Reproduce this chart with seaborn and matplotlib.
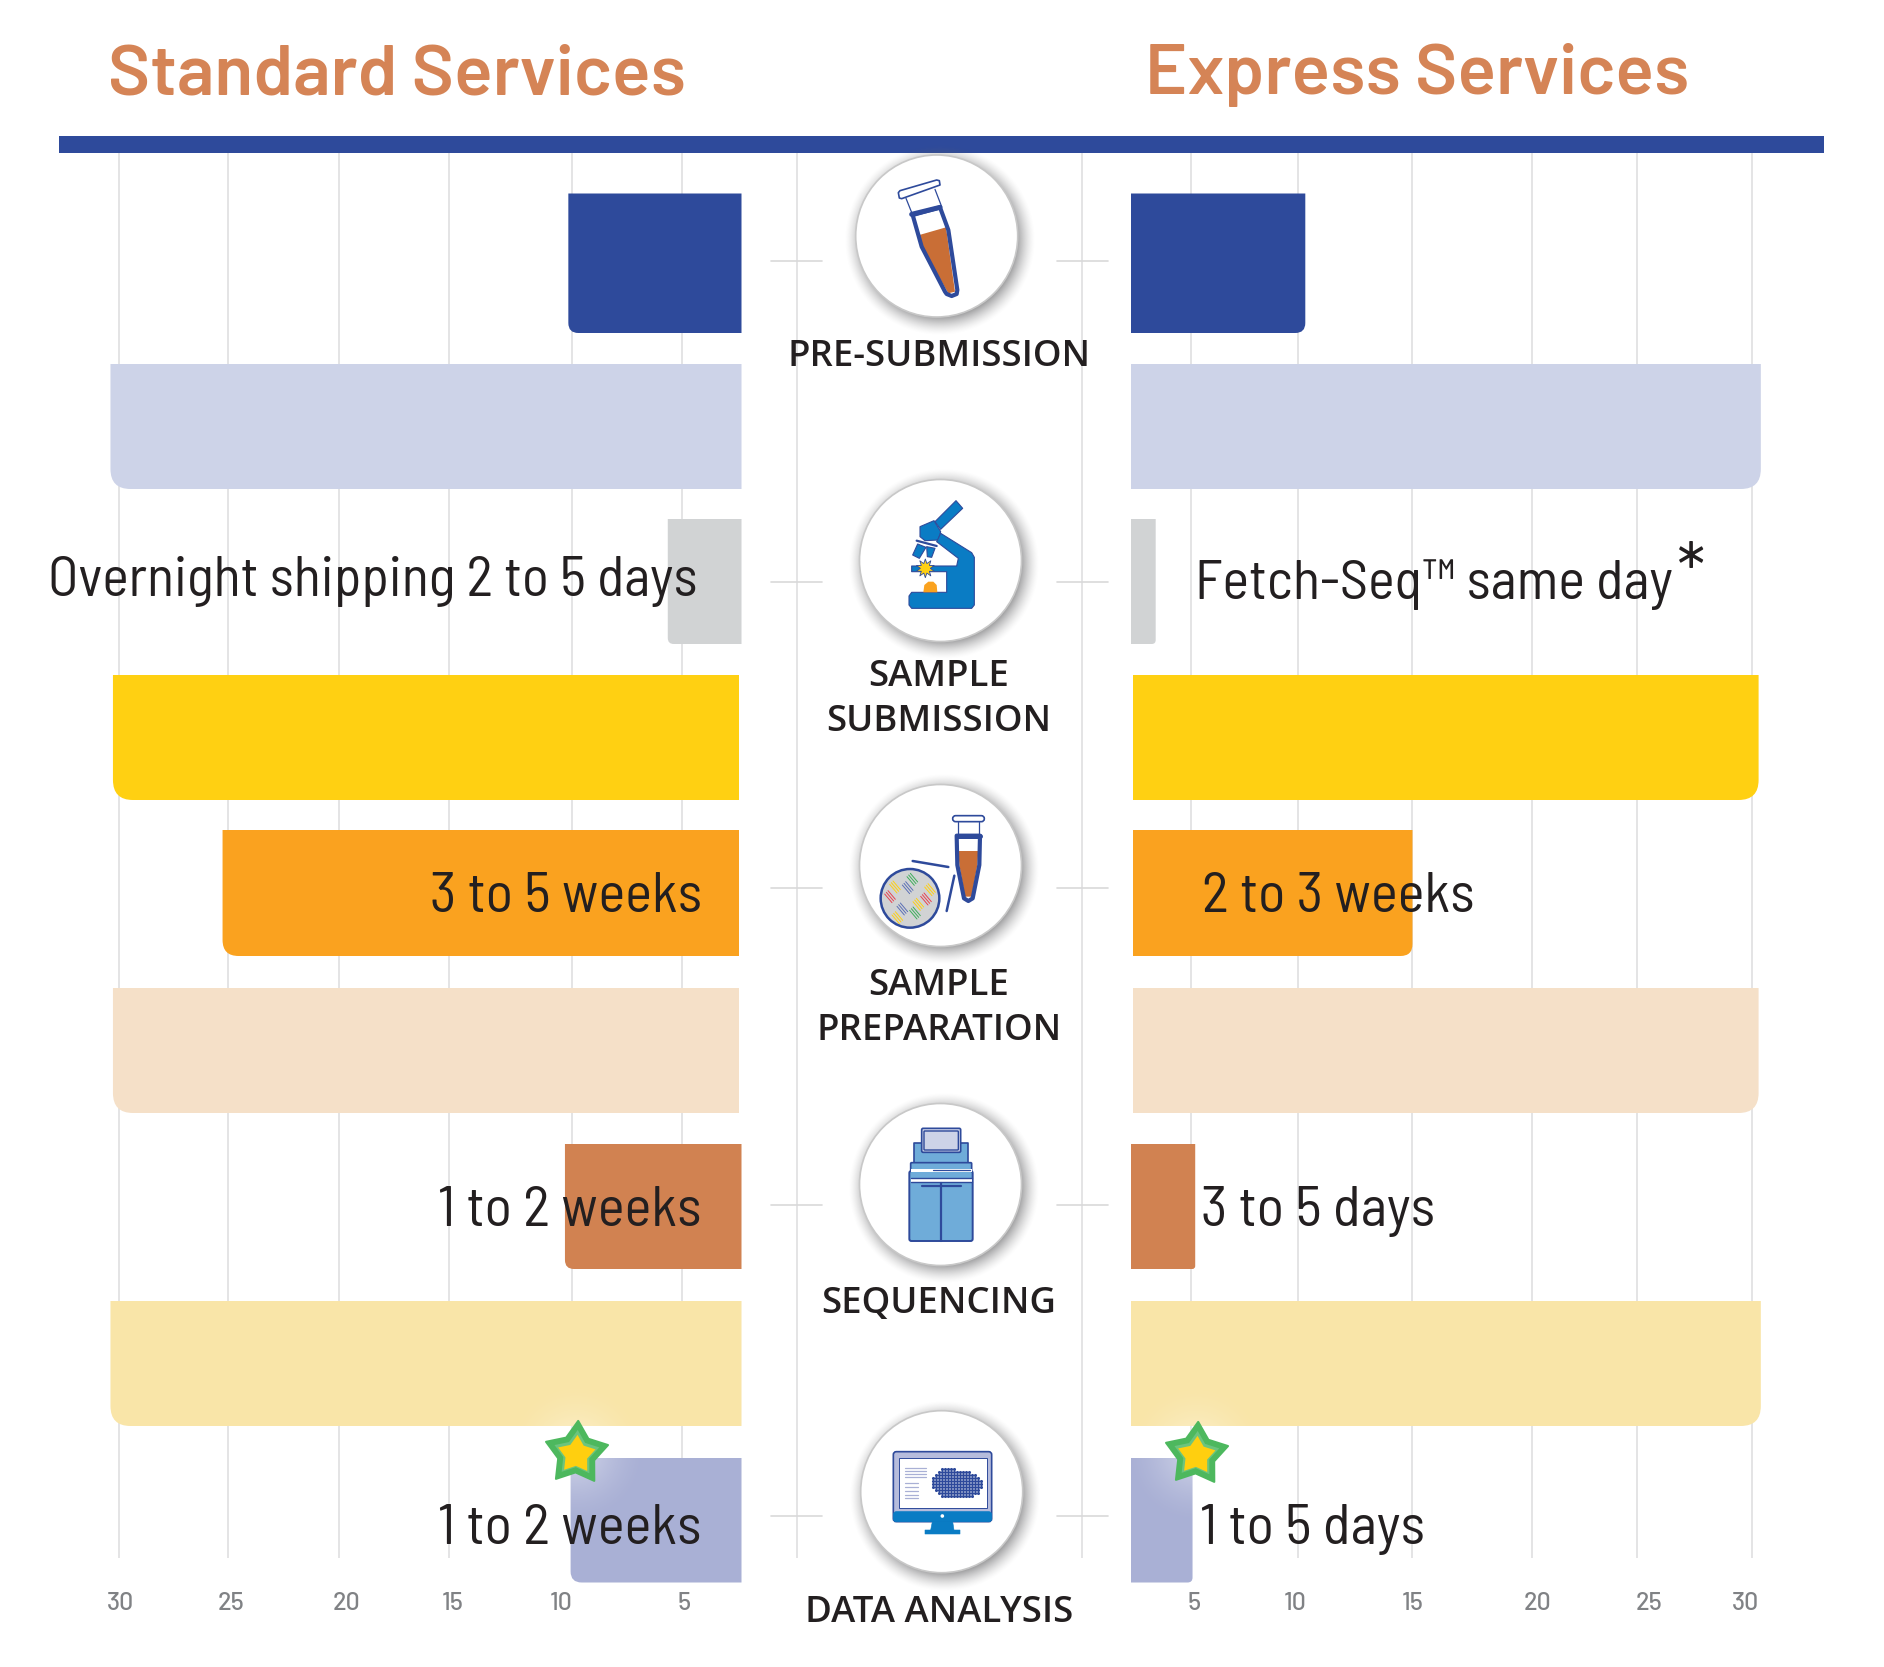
import numpy as np
import pandas as pd
import seaborn as sns
import matplotlib
matplotlib.use("Agg")
import matplotlib.pyplot as plt
from matplotlib.path import Path
from matplotlib.patches import PathPatch, Polygon, Circle, FancyBboxPatch, Rectangle
from matplotlib.transforms import blended_transform_factory as blend

# ---------- data ----------
stages = ["Pre-submission", "Pre-submission gap", "Sample submission", "Submission gap",
          "Sample preparation", "Preparation gap", "Sequencing", "Sequencing gap", "Data analysis"]
standard_days = [10.1, 30.36, 5.7, 30.25, 25.4, 30.25, 10.25, 30.36, 10.0]
express_days = [10.0, 30.4, 3.3, 30.3, 14.8, 30.3, 5.07, 30.4, 4.95]
bar_colors = ["#2E4A9B", "#CDD3E8", "#D1D3D4", "#FFD012", "#FAA21F", "#F5E0C8", "#D18251", "#F9E5A8", "#A9B0D5"]
tick_labels = ["30", "25", "20", "15", "10", "5"]

# ---------- layout (pixels) ----------
W, H = 1884, 1667
sns.set_theme(style="white")
SEMI = ["Barlow Semi Condensed", "Roboto Condensed", "Roboto", "DejaVu Sans"]
FULL = ["Barlow", "Roboto", "DejaVu Sans"]
plt.rcParams["font.family"] = SEMI
DARK = "#231F20"
fig = plt.figure(figsize=(W / 100, H / 100), dpi=100, facecolor="white")

AX_BOTTOM = 1585
ROW_TOP = [193.5, 364, 519, 675, 830, 988, 1144, 1301, 1458]
ROW_BOT = [333, 489, 644, 800, 956, 1113, 1269, 1426, 1582.5]
L_ZERO, L_SCALE = 796.6, 22.6
R_ZERO, R_SCALE = 1082.0, 22.33
L_BASE = [741.5, 741.5, 741.5, 739, 739, 739, 741.5, 741.5, 741.5]
R_BASE = [1131, 1131, 1131, 1133, 1133, 1133, 1131, 1131, 1131]
L_RAD = [10, 20, 6, 20, 16, 20, 9, 20, 11]
R_RAD = [10, 20, 4, 20, 12, 20, 3, 20, 5]
L_GRID = [30, 25.17, 20.24, 15.4, 9.95, 5.07, 0]
R_GRID = [30, 24.87, 20.15, 14.78, 9.67, 4.88, 0]
L_LABEL_POS = [29.9, 25.03, 19.9, 15.2, 10.43, 4.98]
R_LABEL_POS = [29.7, 25.4, 20.4, 14.8, 9.54, 5.0]

ov = fig.add_axes([0, 0, 1, 1], zorder=5)
ov.set_xlim(0, W)
ov.set_ylim(H, 0)
ov.axis("off")
ov.patch.set_alpha(0)


def panel(px0, px1):
    ax = fig.add_axes([px0 / W, 1 - AX_BOTTOM / H, (px1 - px0) / W, AX_BOTTOM / H], zorder=1)
    ax.patch.set_alpha(0)
    return ax


def draw_panel(ax, days, base, rad, grid, label_pos, xlim, outward):
    df = pd.DataFrame({"stage": stages, "days": days})
    sns.barplot(data=df, y="stage", x="days", hue="stage", palette=bar_colors, order=stages,
                hue_order=stages, legend=False, ax=ax, width=0.8, saturation=1, errorbar=None)
    ax.set_xlim(*xlim)
    ax.set_ylim(len(stages) - 0.5, -0.5)
    for s in ax.spines.values():
        s.set_visible(False)
    ax.set_xlabel("")
    ax.set_ylabel("")
    ax.set_yticks([])
    ax.set_xticks(label_pos)
    ax.set_xticklabels(tick_labels, fontsize=18, color="#808285", family=FULL, fontweight=500)
    ax.tick_params(axis="x", length=0, pad=5.2, bottom=False)
    ax.grid(False)
    to_px = ax.transData + ov.transData.inverted()
    bars = sorted([p for p in ax.patches if p.get_width() > 0], key=lambda p: p.get_y())
    for i, p in enumerate(bars):
        outer = to_px.transform((p.get_width(), 0))[0]
        t, b, r, inner = ROW_TOP[i], ROW_BOT[i], rad[i], base[i]
        s = outward
        verts = [(inner, t), (outer, t), (outer, b - r), (outer, b), (outer - s * r, b), (inner, b), (inner, t)]
        codes = [Path.MOVETO, Path.LINETO, Path.LINETO, Path.CURVE3, Path.CURVE3, Path.LINETO, Path.CLOSEPOLY]
        ax.add_patch(PathPatch(Path(verts, codes), fc=p.get_facecolor(), ec="none",
                               transform=ov.transData, clip_on=False, zorder=3))
        p.remove()
    ax.vlines(grid, 152, 1558, colors="#DCDDDE", lw=1.1, zorder=1, transform=blend(ax.transData, ov.transData), clip_on=False)


# panels
lp0, lp1 = 50, 800
rp0, rp1 = 1075, 1830
ax_l = panel(lp0, lp1)
draw_panel(ax_l, standard_days, L_BASE, L_RAD, L_GRID, L_LABEL_POS,
           ((L_ZERO - lp0) / L_SCALE, (L_ZERO - lp1) / L_SCALE), -1)
ax_r = panel(rp0, rp1)
draw_panel(ax_r, express_days, R_BASE, R_RAD, R_GRID, R_LABEL_POS,
           ((rp0 - R_ZERO) / R_SCALE, (rp1 - R_ZERO) / R_SCALE), 1)

# rule and connector ticks
ov.add_patch(Rectangle((59, 136), 1765, 16.5, fc="#2E4A9B", ec="none"))
for y in [261, 582, 888, 1205, 1516]:
    ov.plot([771, 822], [y, y], color="#D9D9D9", lw=1.2, zorder=1)
    ov.plot([1057, 1108], [y, y], color="#D9D9D9", lw=1.2, zorder=1)


def txt(s, x, y, size, ha="left", color=DARK, **kw):
    ov.text(x, y, s, fontsize=size, ha=ha, va="baseline", color=color, zorder=30, **kw)


# headings
txt("Standard Services", 108, 94, 51.5, color="#D58456", fontweight=600, family=FULL)
txt("Express Services", 1145, 94, 51.5, color="#D58456", fontweight=600, family=FULL)
# bar captions
BIG = 41
txt("Overnight shipping 2 to 5 days", 48, 596, 40.4)
txt("Fetch-Seq\u2122 same day", 1195, 599, 40.6)
txt("*", 1677, 598, 54)
txt("3 to 5 weeks", 702, 912, BIG, ha="right")
txt("2 to 3 weeks", 1202, 912, BIG)
txt("1 to 2 weeks", 702, 1226, BIG, ha="right")
txt("3 to 5 days", 1201, 1226, BIG)
txt("1 to 2 weeks", 702, 1544, BIG, ha="right")
txt("1 to 5 days", 1200, 1544, BIG)
# stage names
for s, y in [("PRE-SUBMISSION", 366), ("SAMPLE", 686), ("SUBMISSION", 731), ("SAMPLE", 995),
             ("PREPARATION", 1040), ("SEQUENCING", 1313), ("DATA ANALYSIS", 1622)]:
    ov.text(939, y, s, fontsize=26.3, ha="center", va="baseline", color=DARK, family="Open Sans",
            fontweight=600, zorder=30)


def radial(cx, cy, inner, outer, rgb, amax, z):
    n = int(2 * outer) + 2
    xs = np.linspace(cx - outer, cx + outer, n)
    ys = np.linspace(cy - outer, cy + outer, n)
    X, Y = np.meshgrid(xs, ys)
    d = np.hypot(X - cx, Y - cy)
    a = np.clip((outer - d) / (outer - inner), 0, 1) ** 1.5 * amax
    im = np.zeros((n, n, 4))
    im[..., :3] = rgb
    im[..., 3] = a
    ov.imshow(im, extent=(cx - outer, cx + outer, cy + outer, cy - outer), aspect="auto",
              zorder=z, interpolation="bilinear")


BLUE = "#2E4A9B"
MS = "#0A7CC4"


def mapper(x0, y0, k=3.0):
    return lambda pts: [(x0 + a / k, y0 + b / k) for a, b in pts]


def poly(m, pts, fc="none", ec=BLUE, lw=1.0, z=12):
    ov.add_patch(Polygon(m(pts), closed=True, fc=fc, ec=ec, lw=lw, zorder=z, joinstyle="round"))


def seg(m, pts, color=BLUE, lw=1.0, z=13):
    p = m(pts)
    ov.plot([a for a, _ in p], [b for _, b in p], color=color, lw=lw, zorder=z, solid_capstyle="round")


def rbox(m, a, b, c, d, rad, fc, ec=BLUE, lw=1.0, z=12):
    (x0, y0), (x1, y1) = m([(a, b), (c, d)])
    ov.add_patch(FancyBboxPatch((x0 + rad, y0 + rad), x1 - x0 - 2 * rad, y1 - y0 - 2 * rad,
                                boxstyle=f"round,pad={rad}", fc=fc, ec=ec, lw=lw, zorder=z))


def disc(cx, cy, r=81):
    radial(cx + 3, cy + 4, r - 6, r + 15, (0.40, 0.40, 0.41), 0.72, 9)
    ov.add_patch(Circle((cx, cy), r, fc="white", ec="#C8C8C8", lw=1.2, zorder=10))


# ----- icon 1: tube
disc(936.7, 236)
m = mapper(840, 150)
poly(m, [(238, 255), (318, 232), (345, 425), (325, 430), (245, 290)], fc="#C96E36", ec="none")
poly(m, [(218, 195), (300, 172), (325, 240), (352, 420), (350, 432), (335, 438), (320, 432), (315, 425), (245, 290)], lw=3)
seg(m, [(215, 193), (300, 172)], lw=3.6)
seg(m, [(198, 145), (218, 195)], lw=0.9)
seg(m, [(285, 118), (305, 170)], lw=0.9)
poly(m, [(175, 128), (180, 122), (290, 90), (298, 92), (300, 105), (185, 146), (178, 144)], fc="white", lw=1.2)

# ----- icon 2: microscope
disc(940.5, 560.5)
m = mapper(840, 470)
for pts in [[(285, 155), (348, 92), (368, 115), (302, 178)],
            [(240, 170), (282, 152), (302, 185), (295, 210), (255, 212), (240, 200)],
            [(302, 190), (395, 248), (403, 262), (403, 405), (395, 415), (215, 415), (207, 405), (207, 378),
             (215, 367), (320, 367), (320, 305), (215, 305), (215, 288), (350, 288), (355, 265), (290, 215)],
            [(233, 222), (258, 232), (238, 265), (218, 255)],
            [(260, 230), (285, 235), (275, 262), (262, 260)]]:
    poly(m, pts, fc=MS, lw=0.8)
seg(m, [(230, 212), (290, 228)], lw=1.6)
ang = np.linspace(0, 2 * np.pi, 20, endpoint=False) + np.pi / 2
rr = np.where(np.arange(20) % 2 == 0, 28, 15)
poly(m, list(zip(256 + rr * np.cos(ang), 295 - rr * np.sin(ang))), fc="#FFD012", lw=0.6, z=14)
poly(m, [(250, 367), (253, 345), (265, 335), (280, 335), (290, 345), (292, 367)], fc="#FAA21F", ec="none", z=14)

# ----- icon 3: culture plate + tube
disc(940.5, 865.5)
m = mapper(840, 775)
poly(m, [(355, 228), (415, 228), (412, 270), (395, 365), (375, 365), (358, 270)], fc="#C96E36", ec="none")
poly(m, [(350, 182), (420, 182), (418, 270), (398, 370), (385, 378), (372, 370), (352, 270)], lw=3)
seg(m, [(350, 182), (420, 182)], lw=3.6)
seg(m, [(353, 140), (353, 180)], lw=0.9)
seg(m, [(418, 140), (418, 180)], lw=0.9)
rbox(m, 338, 122, 433, 140, 3, "white", lw=1.2)
seg(m, [(218, 258), (325, 276)], lw=1.8)
seg(m, [(343, 302), (320, 408)], lw=1.8)
c = m([(210, 370)])[0]
ov.add_patch(Circle(c, 88 / 3, fc="#D1D3D4", ec=BLUE, lw=1.8, zorder=12))
for sx, sy, col in [(217, 313, "#3DAE5A"), (165, 336, "#FFD012"), (203, 338, "#5B6FB5"), (270, 344, "#FFD012"),
                    (150, 365, "#E8414F"), (258, 372, "#E8414F"), (235, 388, "#FFD012"), (187, 402, "#5B6FB5"),
                    (225, 414, "#3DAE5A"), (172, 428, "#FFD012")]:
    for o in (-5, 0, 5):
        seg(m, [(sx - 11 + o, sy - 13 - o), (sx + 11 + o, sy + 13 - o)], color=col, lw=0.7)

# ----- icon 4: sequencer
disc(940.5, 1184.5)
m = mapper(840, 1095)
SEQ = "#6FACD9"
poly(m, [(223, 145), (383, 145), (383, 205), (223, 205)], fc=SEQ, lw=1.2)
rbox(m, 245, 100, 362, 172, 1.5, "#CDD3E8", lw=1.2, z=13)
rbox(m, 252, 108, 355, 165, 0.8, "none", lw=1.0, z=14)
rbox(m, 212, 203, 395, 235, 1, SEQ, lw=1.2, z=12)
rbox(m, 208, 228, 398, 438, 2, SEQ, lw=1.4, z=13)
for a, b in [(222, 230), (250, 262)]:
    p = m([(212, a), (395, b)])
    ov.add_patch(Rectangle(p[0], p[1][0] - p[0][0], p[1][1] - p[0][1], fc="white", ec="none", zorder=14))
seg(m, [(212, 250), (395, 250)], lw=1.0, z=15)
seg(m, [(212, 262), (395, 262)], lw=1.0, z=15)
seg(m, [(245, 272), (362, 272)], lw=1.6, z=15)
seg(m, [(303, 265), (303, 438)], lw=1.6, z=15)
seg(m, [(280, 224), (390, 224)], lw=0.9, z=15)

# ----- icon 5: monitor
disc(941.7, 1491.7)
m = mapper(800, 1380)
rbox(m, 280, 215, 575, 425, 3, "#B6BCDC", lw=1.2)
p = m([(297, 233), (560, 385)])
ov.add_patch(Rectangle(p[0], p[1][0] - p[0][0], p[1][1] - p[0][1], fc="white", ec=BLUE, lw=0.7, zorder=13))
rbox(m, 280, 395, 575, 425, 3, MS, ec=MS, lw=0.5, z=13)
ov.add_patch(Circle(m([(427, 408)])[0], 1.8, fc="white", ec="none", zorder=15))
poly(m, [(397, 425), (458, 425), (462, 450), (480, 450), (480, 462), (375, 462), (375, 450), (392, 450)], fc=MS, ec=MS, lw=0.4)
for y in (263, 272, 282, 292):
    seg(m, [(315, y), (378, y)], color="#A9B0D5", lw=0.9)
for y in (310, 322, 333, 344, 355):
    seg(m, [(315, y), (354, y)], color="#A9B0D5", lw=0.9)
gx, gy = np.meshgrid(np.arange(398, 546, 9), np.arange(268, 358, 9))
keep = (((gx - 445) / 50) ** 2 + ((gy - 310) / 46) ** 2 < 1) | (((gx - 495) / 50) ** 2 + ((gy - 315) / 40) ** 2 < 1)
pts = np.array(m(list(zip(gx[keep], gy[keep]))))
ov.scatter(pts[:, 0], pts[:, 1], s=5, c=BLUE, linewidths=0, zorder=14)

# ----- stars
theta = np.pi / 2 - np.arange(10) * np.pi / 5 + np.radians(-3)
radii = np.where(np.arange(10) % 2 == 0, 1.0, 0.58)
star = np.column_stack([radii * np.cos(theta), radii * np.sin(theta)])
star_path = Path(np.vstack([star, star[0]]), closed=True)
for cx, cy in [(575.6, 1453), (1195.7, 1454)]:
    radial(cx, cy, 10, 70, (1, 1, 1), 0.4, 20)
    ov.scatter([cx], [cy], marker=star_path, s=2200, c="#4DB85E", edgecolors="#4DB85E", linewidths=1.5, zorder=21)
    ov.scatter([cx], [cy], marker=star_path, s=1150, c="#6CC47E", linewidths=0, zorder=22)
    ov.scatter([cx], [cy + 1], marker=star_path, s=800, c="#FFCF0F", linewidths=0, zorder=23)

ov.set_xlim(0, W)
ov.set_ylim(H, 0)
fig.savefig("out.png", dpi=100)
